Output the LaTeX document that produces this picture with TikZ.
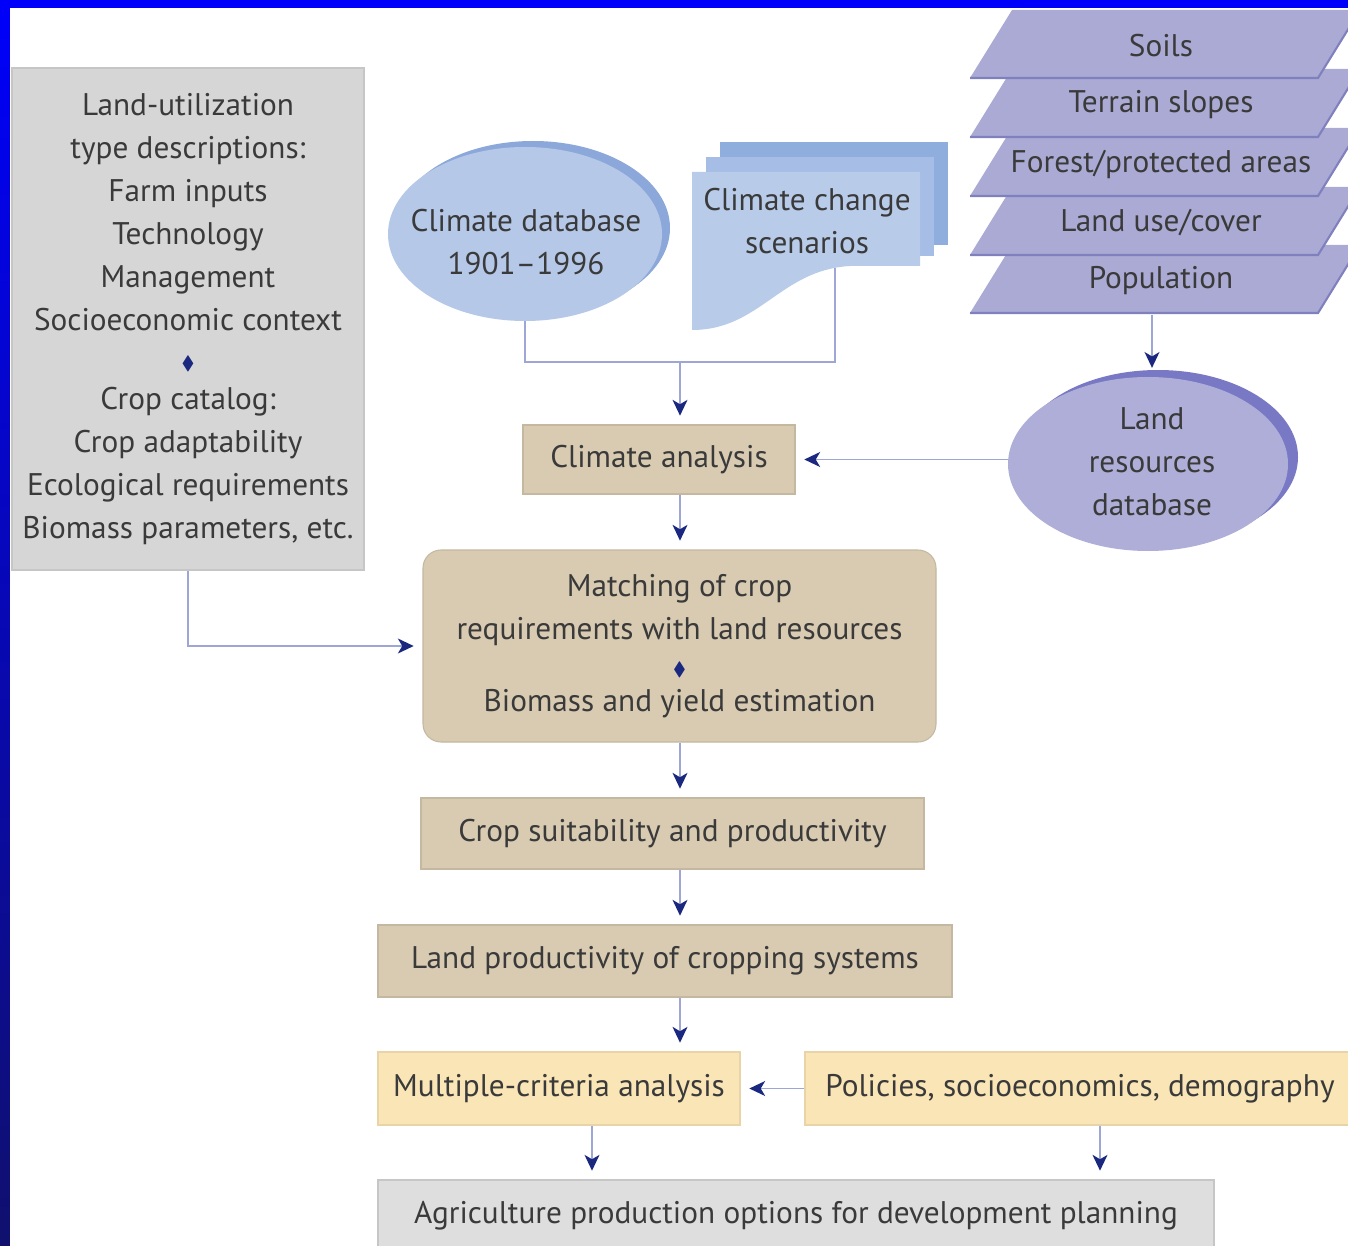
\documentclass[tikz,border=0pt]{standalone}
\usepackage{amssymb}
\usepackage{fontspec}
\setmainfont{PT Sans}
\usetikzlibrary{arrows.meta,shapes.geometric,shadows}
\definecolor{framec}{RGB}{0,0,250}
\definecolor{framedark}{RGB}{16,16,110}
\definecolor{txt}{RGB}{58,58,58}
\definecolor{tanc}{RGB}{216,203,178}
\definecolor{tanline}{RGB}{196,184,160}
\definecolor{yellowc}{RGB}{249,229,182}
\definecolor{yellowline}{RGB}{232,212,166}
\definecolor{greyc}{RGB}{214,214,214}
\definecolor{greyline}{RGB}{198,198,198}
\definecolor{agric}{RGB}{222,222,222}
\definecolor{climc}{RGB}{181,200,232}
\definecolor{climrim}{RGB}{140,168,218}
\definecolor{scenback}{RGB}{144,174,221}
\definecolor{scenmid}{RGB}{166,190,229}
\definecolor{scenfront}{RGB}{184,204,234}
\definecolor{landc}{RGB}{174,174,216}
\definecolor{landrim}{RGB}{120,120,196}
\definecolor{platec}{RGB}{170,170,212}
\definecolor{plateline}{RGB}{128,128,190}
\definecolor{linkc}{RGB}{158,166,214}
\definecolor{tipc}{RGB}{26,40,128}
\newcommand{\dmd}{{\color{tipc}\fontsize{11}{11}\selectfont$\blacklozenge$}}

\begin{document}
\begin{tikzpicture}[x=0.02cm,y=-0.02cm]
\tikzset{px/.style 2 args={minimum width=#1*0.02cm, minimum height=#2*0.02cm},
  every node/.style={inner sep=0pt, text=txt, font=\fontsize{17.8}{24.5}\selectfont},
  tanbox/.style={rectangle, fill=tanc, draw=tanline, line width=0.6pt},
  yellowbox/.style={rectangle, fill=yellowc, draw=yellowline, line width=0.6pt},
  greybox/.style={rectangle, fill=greyc, draw=greyline, line width=0.6pt},
  climblob/.style={ellipse, fill=climc, general shadow={fill=climrim, shadow xshift=0.16cm, shadow yshift=0.12cm}},
  landblob/.style={ellipse, fill=landc, general shadow={fill=landrim, shadow xshift=0.2cm, shadow yshift=0.14cm}},
  plate/.style={fill=platec},
  plateedge/.style={draw=plateline, line width=1.2pt},
  link/.style={draw=linkc, line width=0.9pt},
  flow/.style={link, -{Stealth[length=9pt, width=8.5pt, inset=2.5pt, color=tipc]}, shorten >=5pt}}
\useasboundingbox (0,0) rectangle (1348,1246);
\fill[framec] (0,0) rectangle (1348,1246);
\shade[top color=framec, bottom color=framedark] (0,0) rectangle (10,1246);
\fill[white] (10,8) rectangle (1348,1246);

\node[greybox, px={352}{502}, align=center] (lut) at (188,319) {Land-utilization\\type descriptions:\\Farm inputs\\Technology\\Management\\Socioeconomic context\\[-2pt]\dmd\\[-2pt]Crop catalog:\\Crop adaptability\\Ecological requirements\\Biomass parameters, etc.};

\node[climblob, px={274}{174}] (climdb) at (525,234) {};
\node[align=center] (climdbtxt) at (526,242) {Climate database\\1901--1996};

\fill[scenback] (720,142) rectangle (948,245);
\fill[scenmid] (706,157) rectangle (934,256);
\fill[scenfront] (692,172) -- (920,172) -- (920,266) -- (850,266) .. controls (780,270) and (760,330) .. (692,330) -- cycle;
\node[align=center] (scen) at (807,221) {Climate change\\scenarios};
\coordinate (scenfoot) at (835,268);

\foreach \yb/\lbl [count=\i] in {313/Population, 255/{Land use/cover}, 196/{Forest/protected areas}, 137/Terrain slopes, 78/Soils}{
  \fill[plate] (970,\yb) -- (1318,\yb) -- (1360,\yb-68) -- (1012,\yb-68) -- cycle;
  \draw[plateedge] (970,\yb) -- (1318,\yb) -- (1360,\yb-68);
  \node (layer\i) at (1161,\yb-32) {\lbl};
}
\coordinate (popfoot) at (1152,315);

\node[landblob, px={280}{174}] (landdb) at (1148,464) {};
\node[align=center] (landdbtxt) at (1152,462) {Land\\resources\\database};

\node[tanbox, px={272}{69}] (climana) at (659,459.5) {Climate analysis};
\node[tanbox, px={513}{192}, rounded corners=0.36cm, align=center] (match) at (679.5,646) {Matching of crop\\requirements with land resources\\[-4pt]\dmd\\[-4pt]Biomass and yield estimation};
\node[tanbox, px={503}{71}] (suit) at (672.5,833.5) {Crop suitability and productivity};
\node[tanbox, px={574}{72}] (lprod) at (665,961) {Land productivity of cropping systems};
\node[yellowbox, px={362}{73}] (multi) at (559,1088.5) {Multiple-criteria analysis};
\node[yellowbox, px={550}{73}] (policy) at (1080,1088.5) {Policies, socioeconomics, demography};
\node[greybox, fill=agric, px={836}{72}] (agri) at (796,1216) {Agriculture production options for development planning};

\coordinate (climjoin) at (680,362);
\coordinate (spine) at (680,0);
\coordinate (outl) at (592,0);
\coordinate (outr) at (1100,0);

\draw[link] (climdb.south) |- (climjoin) -| (scenfoot);
\draw[flow] (climjoin) -- (climjoin |- climana.north);
\draw[flow] (popfoot) -- (popfoot |- landdb.north);
\draw[flow] (landdb.west |- climana.east) -- (climana.east);
\draw[flow] (spine |- climana.south) -- (spine |- match.north);
\draw[flow] (lut.south) |- (match.west);
\draw[flow] (spine |- match.south) -- (spine |- suit.north);
\draw[flow] (spine |- suit.south) -- (spine |- lprod.north);
\draw[flow] (spine |- lprod.south) -- (spine |- multi.north);
\draw[flow] (policy.west) -- (multi.east);
\draw[flow] (outl |- multi.south) -- (outl |- agri.north);
\draw[flow] (outr |- policy.south) -- (outr |- agri.north);
\end{tikzpicture}
\end{document}
